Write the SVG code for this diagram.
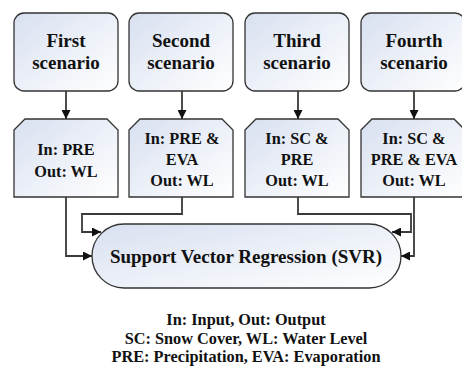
<svg xmlns="http://www.w3.org/2000/svg" width="462" height="368" viewBox="0 0 462 368">
  <style>
    .box { fill: url(#fillGrad); stroke: #333; stroke-width: 1.3; }
    .t1 { font-weight: bold; font-size: 19px; fill: #111; text-anchor: middle; }
    .t2 { font-weight: bold; font-size: 16.3px; fill: #111; text-anchor: middle; }
    .conn { fill: none; stroke: #3a3a3a; stroke-width: 1.8; }
  </style>
  <defs>
    <linearGradient id="fillGrad" x1="0" y1="0" x2="1" y2="1">
      <stop offset="0" stop-color="#d8e0f0"/>
      <stop offset="1" stop-color="#ffffff"/>
    </linearGradient>
    <marker id="arrow" viewBox="0 0 10 10" refX="10" refY="5" markerUnits="userSpaceOnUse" markerWidth="9" markerHeight="9" orient="auto">
      <path d="M0,0 L10,5 L0,10 z" fill="#111"/>
    </marker>
  </defs>

  <rect width="462" height="368" fill="#ffffff"/>

  <g font-family="'Liberation Serif', 'Times New Roman', serif">
  <!-- scenario boxes -->
  <g id="scenario1">
    <rect class="box" x="14" y="13" width="104" height="78" rx="10"/>
    <text class="t1" x="66" y="47">First</text>
    <text class="t1" x="66" y="69">scenario</text>
  </g>
  <g id="scenario2">
    <rect class="box" x="129" y="13" width="104" height="78" rx="10"/>
    <text class="t1" x="181" y="47">Second</text>
    <text class="t1" x="181" y="69">scenario</text>
  </g>
  <g id="scenario3">
    <rect class="box" x="245" y="13" width="104" height="78" rx="10"/>
    <text class="t1" x="297" y="47">Third</text>
    <text class="t1" x="297" y="69">scenario</text>
  </g>
  <g id="scenario4">
    <rect class="box" x="361" y="13" width="104" height="78" rx="10"/>
    <text class="t1" x="414" y="47">Fourth</text>
    <text class="t1" x="414" y="69">scenario</text>
  </g>

  <!-- input/output boxes -->
  <g id="io1">
    <path class="box" d="M14,130 L25,119 L107,119 L118,130 L118,197 L14,197 Z"/>
    <text class="t2" x="66" y="155">In: PRE</text>
    <text class="t2" x="66" y="177">Out: WL</text>
  </g>
  <g id="io2">
    <path class="box" d="M129,130 L140,119 L222,119 L233,130 L233,197 L129,197 Z"/>
    <text class="t2" x="182" y="144">In: PRE &amp;</text>
    <text class="t2" x="182" y="165">EVA</text>
    <text class="t2" x="182" y="186">Out: WL</text>
  </g>
  <g id="io3">
    <path class="box" d="M245,130 L256,119 L338,119 L349,130 L349,197 L245,197 Z"/>
    <text class="t2" x="297" y="144">In: SC &amp;</text>
    <text class="t2" x="297" y="165">PRE</text>
    <text class="t2" x="297" y="186">Out: WL</text>
  </g>
  <g id="io4">
    <path class="box" d="M361,130 L372,119 L454,119 L465,130 L465,197 L361,197 Z"/>
    <text class="t2" x="414" y="144">In: SC &amp;</text>
    <text class="t2" x="414" y="165">PRE &amp; EVA</text>
    <text class="t2" x="414" y="186">Out: WL</text>
  </g>

  <!-- regression model -->
  <g id="svr">
    <rect class="box" x="92" y="224" width="309" height="64" rx="32"/>
    <text class="t1" x="246" y="263">Support Vector Regression (SVR)</text>
  </g>

  <!-- legend -->
  <g id="legend">
    <text class="t2" x="246" y="325">In: Input, Out: Output</text>
    <text class="t2" x="246" y="344">SC: Snow Cover, WL: Water Level</text>
    <text class="t2" x="246" y="362">PRE: Precipitation, EVA: Evaporation</text>
  </g>
  </g>

  <!-- connectors -->
  <g id="connectors">
    <path class="conn" d="M66,91 V119" marker-end="url(#arrow)"/>
    <path class="conn" d="M182,91 V119" marker-end="url(#arrow)"/>
    <path class="conn" d="M298,91 V119" marker-end="url(#arrow)"/>
    <path class="conn" d="M414,91 V119" marker-end="url(#arrow)"/>
    <path class="conn" d="M66,197 V256 H92" marker-end="url(#arrow)"/>
    <path class="conn" d="M182,197 V214 H82 V232 H101" marker-end="url(#arrow)"/>
    <path class="conn" d="M298,197 V214 H411 V232 H392" marker-end="url(#arrow)"/>
    <path class="conn" d="M414,197 V256 H401" marker-end="url(#arrow)"/>
  </g>
</svg>
